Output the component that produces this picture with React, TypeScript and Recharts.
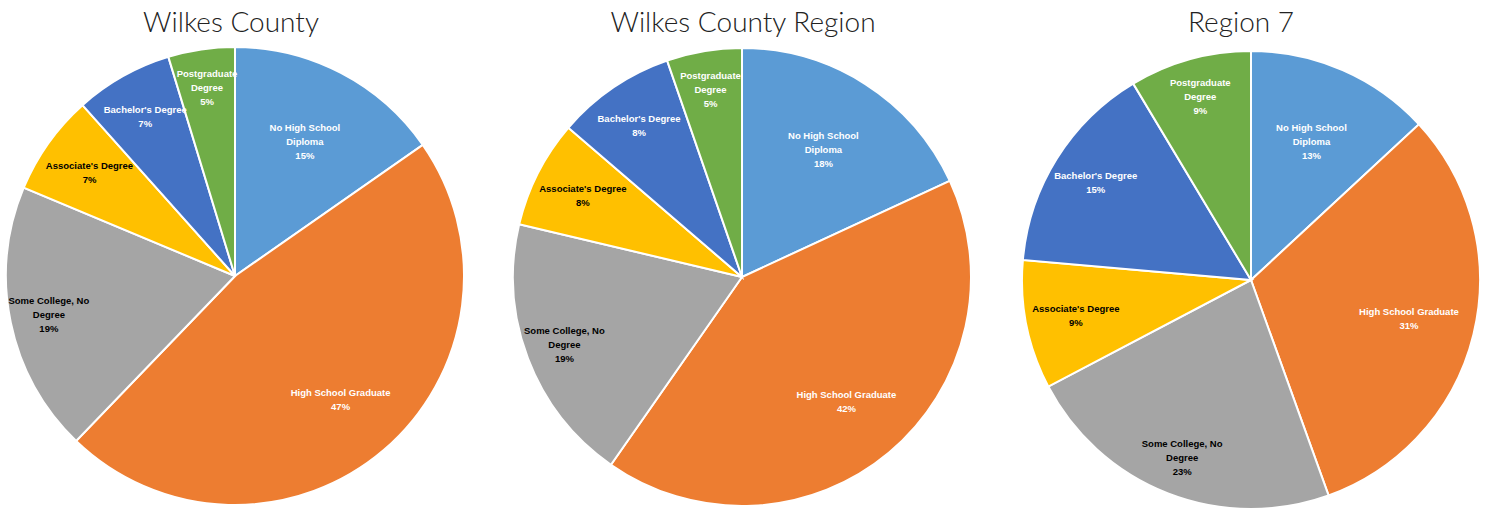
import { PieChart, Pie, Cell } from 'recharts'

const categories = [
  'No High School Diploma',
  'High School Graduate',
  'Some College, No Degree',
  "Associate's Degree",
  "Bachelor's Degree",
  'Postgraduate Degree',
]

// how Excel wrapped each label
const labelLines = [
  ['No High School', 'Diploma'],
  ['High School Graduate'],
  ['Some College, No', 'Degree'],
  ["Associate's Degree"],
  ["Bachelor's Degree"],
  ['Postgraduate', 'Degree'],
]

const titles = ['Wilkes County', 'Wilkes County Region', 'Region 7']

const wilkesCounty = [15.3, 46.9, 19.1, 7.1, 6.9, 4.7]
const wilkesRegion = [18.1, 41.6, 19.0, 7.6, 8.4, 5.3]
const region7 = [13.1, 31.4, 22.8, 9.1, 15.0, 8.6]

const series = [wilkesCounty, wilkesRegion, region7]

const COLORS = ['#5B9BD5', '#ED7D31', '#A5A5A5', '#FFC000', '#4472C4', '#70AD47']
const LABEL_COLORS = ['#fff', '#fff', '#000', '#000', '#fff', '#fff']
// fraction of the radius where each label sits
const LABEL_R = [0.66, 0.71, 0.83, 0.78, 0.8, 0.83]

// recharts adds a 5px margin, so centres are given relative to that
const charts = [
  { left: 0, width: 500, cx: 230, cy: 271, titleX: 231 },
  { left: 500, width: 500, cx: 237, cy: 272, titleX: 243 },
  { left: 1000, width: 486, cx: 246, cy: 275, titleX: 241 },
]

const RADIAN = Math.PI / 180

function renderLabel(props: any) {
  const { cx, cy, midAngle, outerRadius, percent, index } = props
  const r = outerRadius * LABEL_R[index]
  const x = cx + r * Math.cos(-midAngle * RADIAN)
  const y = cy + r * Math.sin(-midAngle * RADIAN)
  const lines = [...labelLines[index], `${Math.round(percent * 100)}%`]
  const lh = 14
  const startY = y - ((lines.length - 1) * lh) / 2 + 3.5
  return (
    <text
      x={x}
      y={startY}
      textAnchor="middle"
      fill={LABEL_COLORS[index]}
      fontFamily="'Liberation Sans', Arial, sans-serif"
      fontWeight="bold"
      fontSize={9.5}
    >
      {lines.map((l, i) => (
        <tspan key={i} x={x} y={startY + i * lh}>
          {l}
        </tspan>
      ))}
    </text>
  )
}

export default function App() {
  return (
    <div style={{ position: 'absolute', left: 0, top: 0, width: 1486, height: 508, background: '#fff' }}>
      {charts.map((c, k) => {
        const data = categories.map((name, i) => ({ name, value: series[k][i] }))
        return (
          <div key={k} style={{ position: 'absolute', left: c.left, top: 0, width: c.width, height: 508 }}>
            <div
              style={{
                position: 'absolute',
                left: c.titleX - 200,
                width: 400,
                top: 4,
                textAlign: 'center',
                fontFamily: 'Lato, sans-serif',
                fontWeight: 300,
                fontSize: 28,
                color: '#222',
              }}
            >
              {titles[k]}
            </div>
            <PieChart width={c.width} height={508}>
              <Pie
                data={data}
                dataKey="value"
                nameKey="name"
                cx={c.cx}
                cy={c.cy}
                outerRadius={229}
                startAngle={90}
                endAngle={-270}
                stroke="#fff"
                strokeWidth={2}
                label={renderLabel}
                labelLine={false}
                isAnimationActive={false}
              >
                {data.map((d, i) => (
                  <Cell key={d.name} fill={COLORS[i]} />
                ))}
              </Pie>
            </PieChart>
          </div>
        )
      })}
    </div>
  )
}
